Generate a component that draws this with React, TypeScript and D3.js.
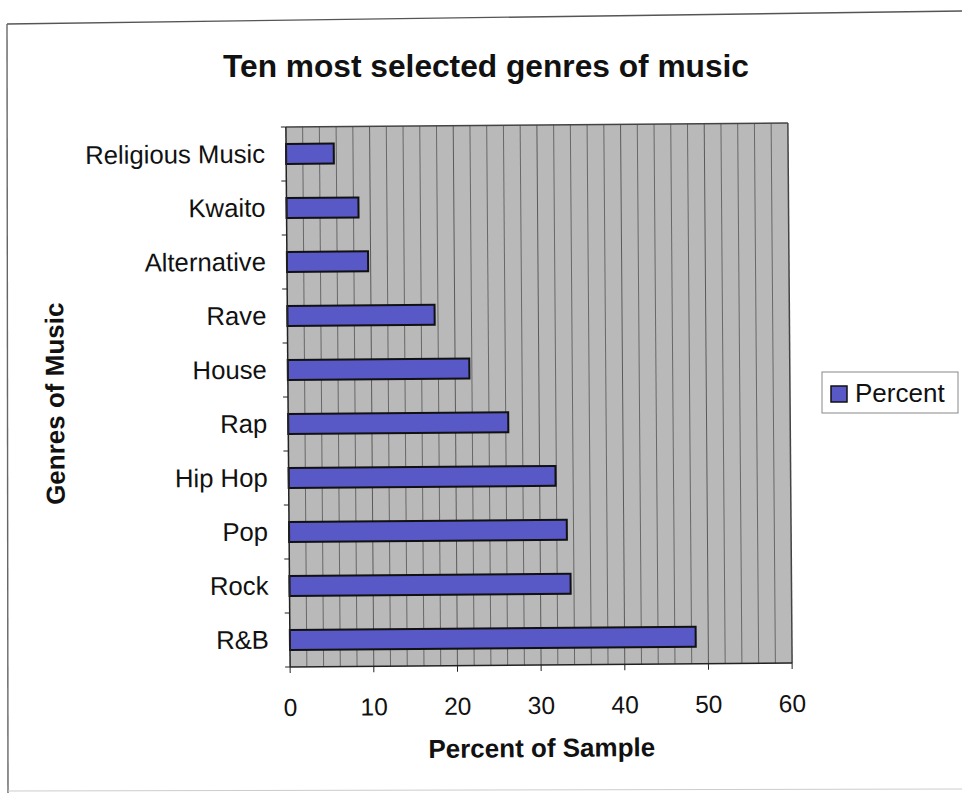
import React from "react";
import * as d3 from "d3";

// Genres, top row first, with the percent of the sample choosing each one
const genres = [
  "Religious Music",
  "Kwaito",
  "Alternative",
  "Rave",
  "House",
  "Rap",
  "Hip Hop",
  "Pop",
  "Rock",
  "R&B",
];
const percents = [5.7, 8.6, 9.7, 17.6, 21.7, 26.3, 31.9, 33.2, 33.6, 48.5];
const xTicks = [0, 10, 20, 30, 40, 50, 60];
const gridValues = d3.range(2, 60, 2);

const title = "Ten most selected genres of music";
const xTitle = "Percent of Sample";
const yTitle = "Genres of Music";
const seriesName = "Percent";

const W = 962;
const H = 793;
const plot = { left: 288, right: 790, top: 125, bottom: 665 };
const FONT = "'Liberation Sans', Arial, Helvetica, sans-serif";
const BAR_FILL = "#5858c6";

export default function App() {
  const x = d3.scaleLinear().domain([0, 60]).range([plot.left, plot.right]);
  const y = d3
    .scaleBand<string>()
    .domain(genres)
    .range([plot.top, plot.bottom])
    .paddingInner(0.63)
    .paddingOuter(0.315);
  const step = y.step();
  const boundaries = d3.range(genres.length + 1).map((i) => plot.top + i * step);
  const cx = (plot.left + plot.right) / 2;
  const cy = (plot.top + plot.bottom) / 2;

  return (
    <svg
      width={W}
      height={H}
      style={{ position: "absolute", left: 0, top: 0, background: "#fff" }}
      fontFamily={FONT}
    >
      {/* outer chart border */}
      <path d="M7,24 L962,11" stroke="#555" strokeWidth={1.4} fill="none" />
      <path d="M7,24 L8,793" stroke="#666" strokeWidth={1.4} fill="none" />
      <path d="M8,791 L962,789" stroke="#ccc" strokeWidth={1} fill="none" />

      <text
        x={486}
        y={77}
        textAnchor="middle"
        fontSize={31.7}
        fontWeight="bold"
        fill="#111"
      >
        {title}
      </text>

      <g transform={`rotate(-0.45, ${cx}, ${cy})`}>
        {/* plot area */}
        <rect
          x={plot.left}
          y={plot.top}
          width={plot.right - plot.left}
          height={plot.bottom - plot.top}
          fill="#b9b9b9"
        />
        {gridValues.map((v) => (
          <line
            key={`g${v}`}
            x1={x(v)}
            x2={x(v)}
            y1={plot.top}
            y2={plot.bottom}
            stroke={v % 10 === 0 ? "#5a5a5a" : "#686868"}
            strokeWidth={1}
          />
        ))}
        {/* plot border top / right */}
        <line x1={plot.left} x2={plot.right} y1={plot.top} y2={plot.top} stroke="#444" strokeWidth={1.5} />
        <line x1={plot.right} x2={plot.right} y1={plot.top} y2={plot.bottom} stroke="#444" strokeWidth={1.5} />

        {/* bars */}
        {genres.map((g, i) => (
          <rect
            key={g}
            x={x(0)}
            y={y(g)!}
            width={x(percents[i]) - x(0)}
            height={y.bandwidth()}
            fill={BAR_FILL}
            stroke="#111"
            strokeWidth={2}
          />
        ))}

        {/* axes */}
        <line x1={plot.left} x2={plot.left} y1={plot.top} y2={plot.bottom} stroke="#222" strokeWidth={1.5} />
        <line x1={plot.left} x2={plot.right} y1={plot.bottom} y2={plot.bottom} stroke="#222" strokeWidth={1.5} />
        {boundaries.map((b, i) => (
          <line key={`yt${i}`} x1={plot.left - 5} x2={plot.left} y1={b} y2={b} stroke="#222" strokeWidth={1} />
        ))}
        {xTicks.map((t) => (
          <line key={`xt${t}`} x1={x(t)} x2={x(t)} y1={plot.bottom} y2={plot.bottom + 6} stroke="#222" strokeWidth={1} />
        ))}

        {/* category labels */}
        {genres.map((g) => (
          <text
            key={`l${g}`}
            x={267}
            y={y(g)! + y.bandwidth() / 2 + 8.5}
            textAnchor="end"
            fontSize={25.7}
            fill="#111"
          >
            {g}
          </text>
        ))}

        {/* value labels */}
        {xTicks.map((t) => (
          <text key={`xl${t}`} x={x(t)} y={714} textAnchor="middle" fontSize={24.5} fill="#111">
            {t}
          </text>
        ))}

        <text x={cx} y={757} textAnchor="middle" fontSize={26} fontWeight="bold" fill="#111">
          {xTitle}
        </text>
        <text
          transform={`translate(64, ${cy + 5}) rotate(-90)`}
          textAnchor="middle"
          fontSize={26}
          fontWeight="bold"
          fill="#111"
        >
          {yTitle}
        </text>
      </g>

      {/* legend */}
      <g>
        <rect x={822} y={372} width={136} height={41} fill="#fff" stroke="#888" strokeWidth={1} />
        <rect x={831} y={386} width={16} height={16} fill={BAR_FILL} stroke="#111" strokeWidth={1.5} />
        <text x={855} y={402} fontSize={26} fill="#111">
          {seriesName}
        </text>
      </g>
    </svg>
  );
}
